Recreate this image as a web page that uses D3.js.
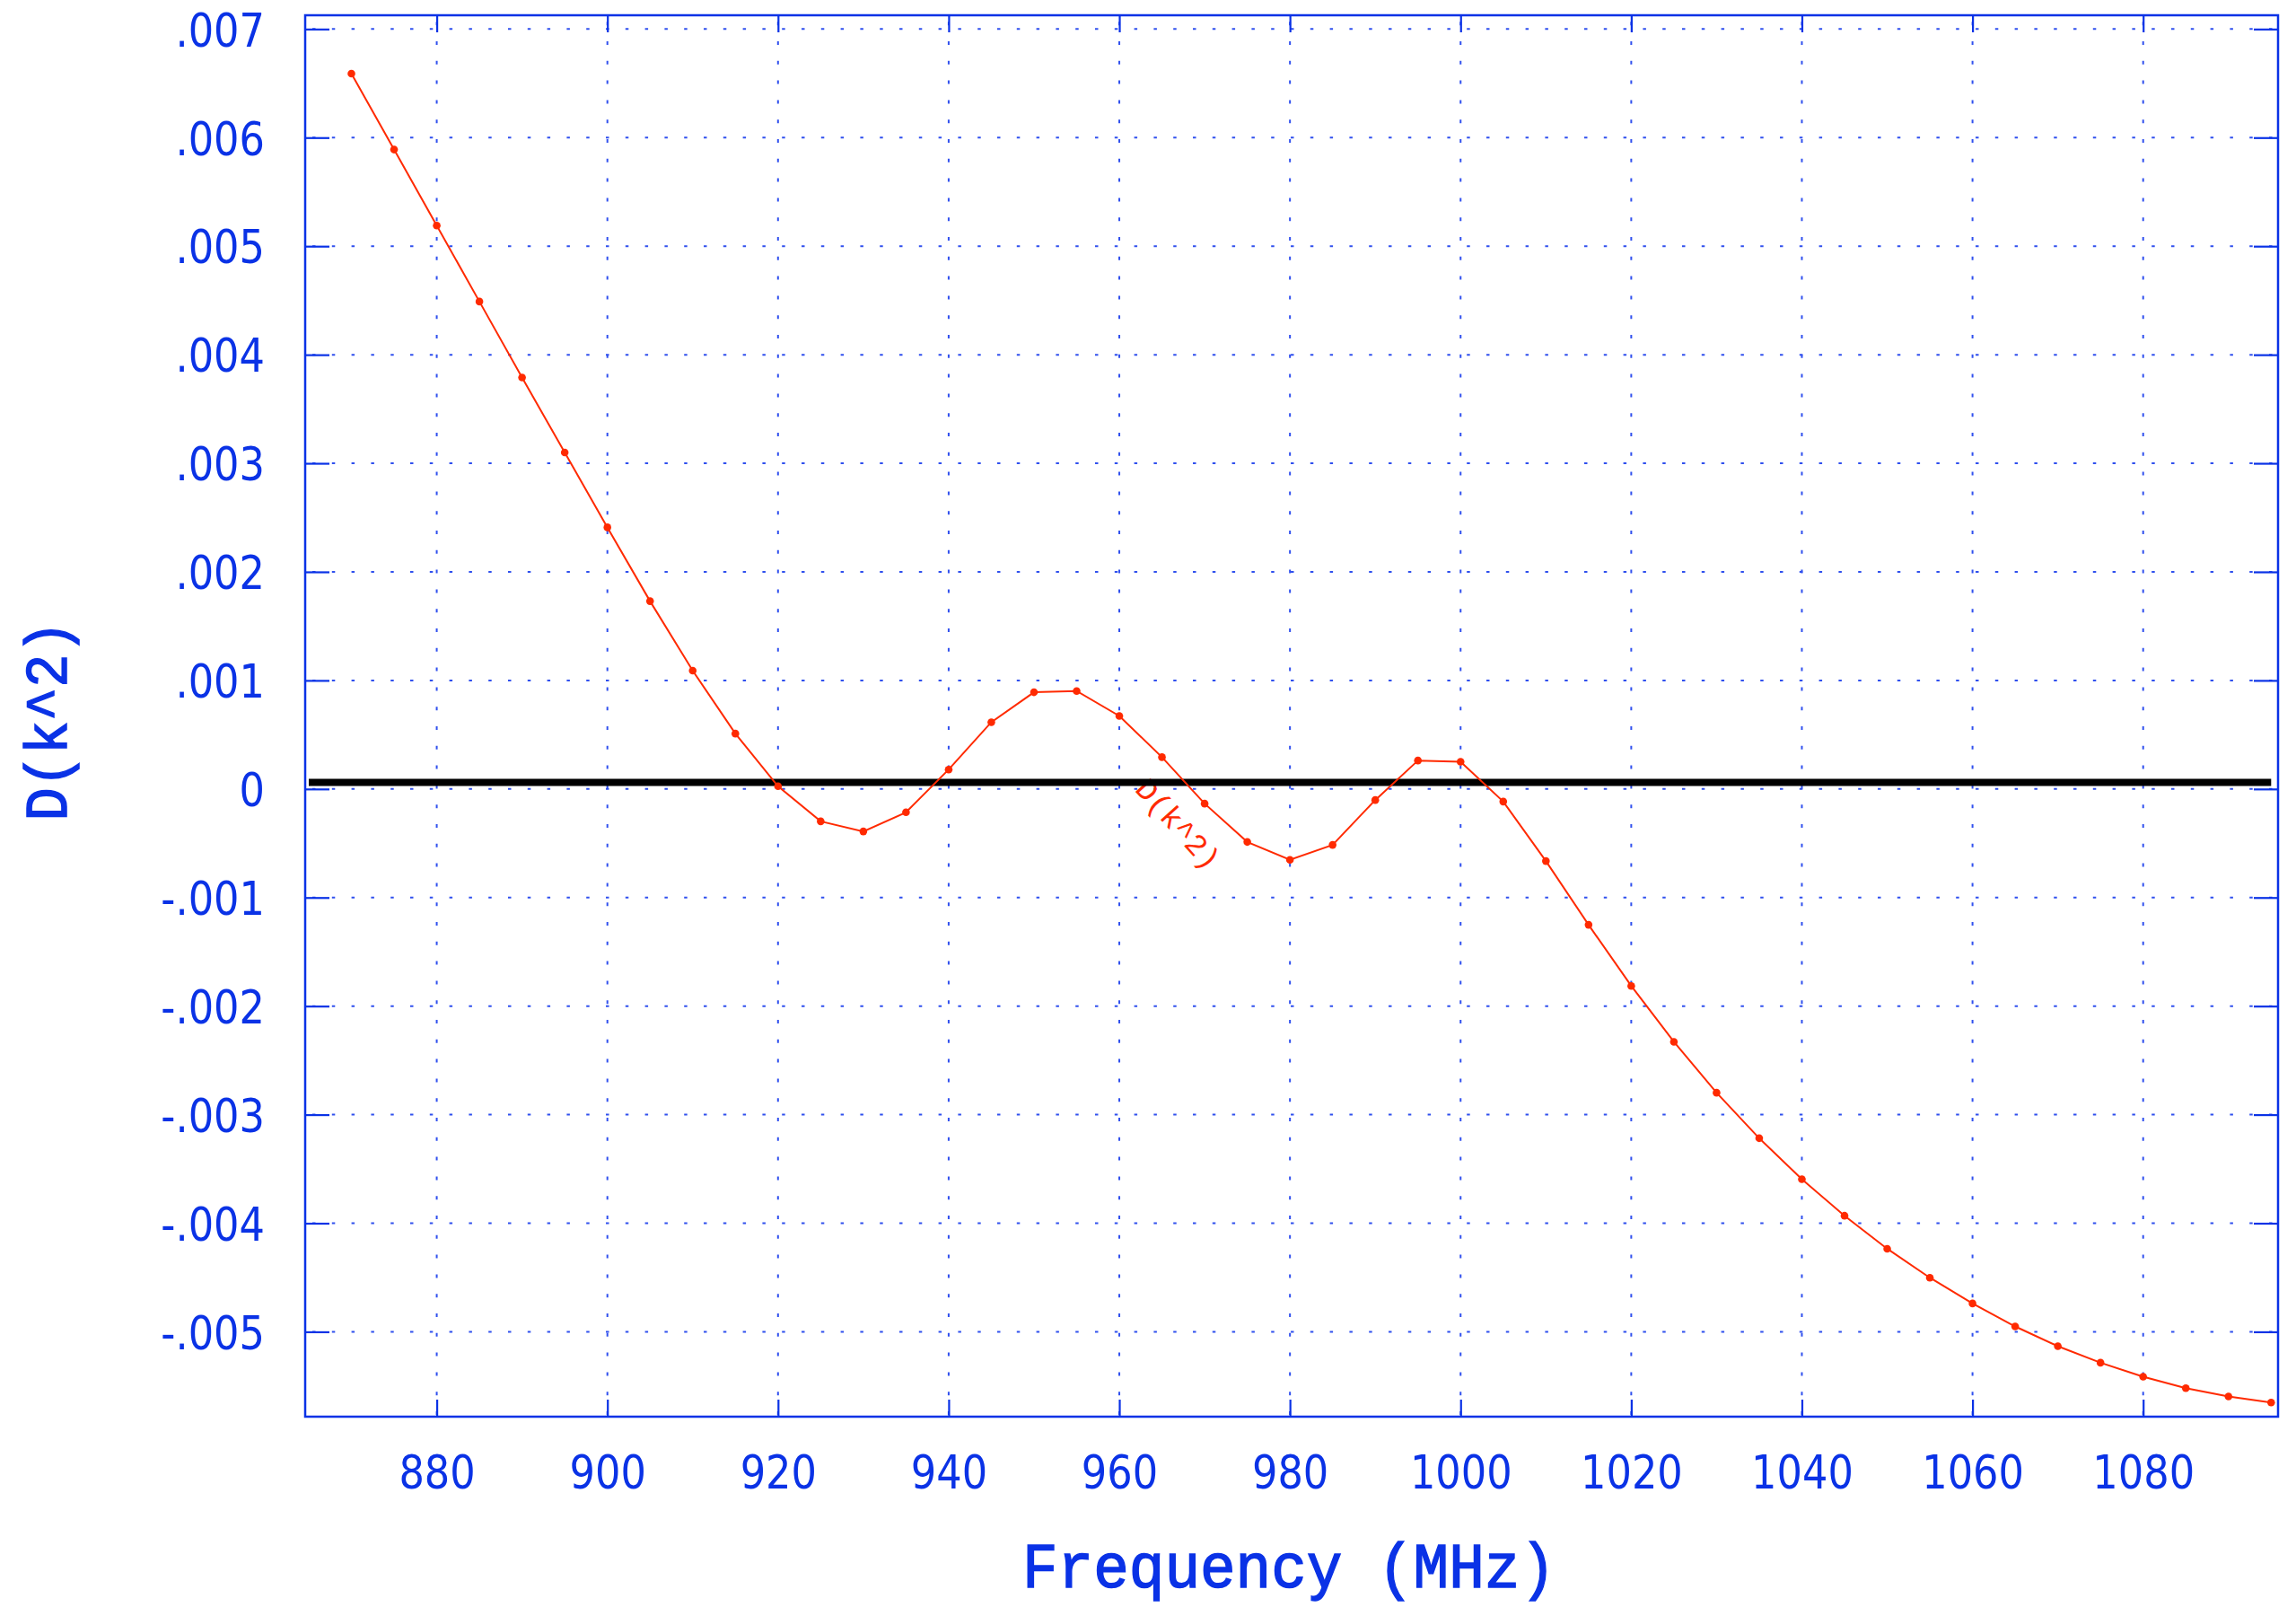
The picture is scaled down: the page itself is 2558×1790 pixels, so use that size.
<!DOCTYPE html>
<html>
<head>
<meta charset="utf-8">
<script src="https://cdn.jsdelivr.net/npm/d3@7"></script>
<style>
  body { margin: 0; background: #ffffff; }
  svg { display: block; }
</style>
</head>
<body>
<svg id="chart"></svg>
<script>
// frequency samples (MHz) and the D(k^2) curve
var frequencies = [870, 875, 880, 885, 890, 895, 900, 905, 910, 915,
                   920, 925, 930, 935, 940, 945, 950, 955, 960, 965,
                   970, 975, 980, 985, 990, 995, 1000, 1005, 1010, 1015,
                   1020, 1025, 1030, 1035, 1040, 1045, 1050, 1055, 1060, 1065,
                   1070, 1075, 1080, 1085, 1090, 1095];
var dk2 = [0.00659, 0.00589, 0.00519, 0.00449, 0.00379, 0.00310, 0.00241, 0.00173, 0.00109, 0.00051,
           0.000025, -0.000298, -0.000391, -0.000215, 0.000179, 0.000615, 0.000891, 0.000902, 0.000673, 0.000293,
           -0.000135, -0.000488, -0.000653, -0.000515, -0.000102, 0.000262, 0.000251, -0.000116, -0.000664, -0.001251,
           -0.001814, -0.002329, -0.002798, -0.003217, -0.003595, -0.003931, -0.004235, -0.004502, -0.004739, -0.004951,
           -0.005133, -0.005285, -0.005414, -0.005519, -0.005596, -0.005652];

// axis ticks and their labels
var xTicks = [880, 900, 920, 940, 960, 980, 1000, 1020, 1040, 1060, 1080];
var yTicks = [0.007, 0.006, 0.005, 0.004, 0.003, 0.002, 0.001, 0, -0.001, -0.002, -0.003, -0.004, -0.005];
var yTickLabels = [".007", ".006", ".005", ".004", ".003", ".002", ".001", "0", "-.001", "-.002", "-.003", "-.004", "-.005"];

// black reference line (value and frequency span)
var refLevel = 0.00006;
var refSpan = [865, 1095];

var xTitle = "Frequency (MHz)";
var yTitle = "D(k^2)";
var seriesLabel = "D(k^2)";

var W = 2558, H = 1790;
var blue = "#0a32e6", gridBlue = "#3050ee", red = "#ff2a00";

var margin = { top: 17, right: 20, bottom: 212, left: 340 },
    width = W - margin.left - margin.right,
    height = H - margin.top - margin.bottom;

var svg = d3.select("#chart").attr("width", W).attr("height", H);
var g = svg.append("g").attr("transform", "translate(" + margin.left + "," + margin.top + ")");

var x = d3.scaleLinear().domain([864.58, 1095.81]).range([0, width]);
var y = d3.scaleLinear().domain([-0.005782, 0.007127]).range([height, 0]);

// dotted grid
g.append("g").selectAll("line").data(yTicks).enter().append("line")
    .attr("x1", 0).attr("x2", width)
    .attr("y1", d => y(d)).attr("y2", d => y(d))
    .attr("stroke", gridBlue).attr("stroke-width", 2)
    .attr("stroke-dasharray", "3.5 18.3").attr("stroke-dashoffset", -8);
g.append("g").selectAll("line").data(xTicks).enter().append("line")
    .attr("x1", d => x(d)).attr("x2", d => x(d))
    .attr("y1", height).attr("y2", 0)
    .attr("stroke", gridBlue).attr("stroke-width", 2)
    .attr("stroke-dasharray", "4 17.8").attr("stroke-dashoffset", -2);

// axes: ticks inside on all four sides
var labelScale = 0.86;
var yAxis = g.append("g")
    .call(d3.axisLeft(y).tickValues(yTicks).tickSize(-27).tickSizeOuter(0)
        .tickFormat((d, i) => yTickLabels[i]).tickPadding(45));
yAxis.selectAll("text")
    .attr("x", -45 / labelScale)
    .attr("transform", "scale(" + labelScale + ",1)")
    .attr("dy", "0.36em");

var xAxis = g.append("g").attr("transform", "translate(0," + height + ")")
    .call(d3.axisBottom(x).tickValues(xTicks).tickSize(-19).tickSizeOuter(0).tickFormat(d3.format("d")));
xAxis.selectAll("text")
    .attr("y", 80).attr("dy", 0)
    .attr("transform", "scale(" + labelScale + ",1)")
    .attr("x", 0);

g.append("g").attr("transform", "translate(" + width + ",0)")
    .call(d3.axisRight(y).tickValues(yTicks).tickSize(-27).tickSizeOuter(0).tickFormat(""));
g.append("g")
    .call(d3.axisTop(x).tickValues(xTicks).tickSize(-19).tickSizeOuter(0).tickFormat(""));

g.selectAll(".domain").remove();
g.selectAll(".tick line").attr("stroke", blue).attr("stroke-width", 2.2);
g.selectAll(".tick text")
    .attr("fill", blue)
    .style("font-family", "'DejaVu Sans', sans-serif")
    .style("font-size", "52px");

// frame
g.append("rect")
    .attr("width", width).attr("height", height)
    .attr("fill", "none").attr("stroke", blue).attr("stroke-width", 2.5);

// series label along the curve
g.append("text")
    .attr("transform", "translate(" + x(961.7) + "," + y(-0.00001) + ") rotate(48)")
    .attr("fill", red)
    .style("font-family", "'Liberation Mono', monospace")
    .style("font-size", "34px")
    .text(seriesLabel);

// black reference line
g.append("line")
    .attr("x1", x(refSpan[0])).attr("x2", x(refSpan[1]))
    .attr("y1", y(refLevel)).attr("y2", y(refLevel))
    .attr("stroke", "#000").attr("stroke-width", 8);

// the curve
var points = frequencies.map((f, i) => ({ f: f, v: dk2[i] }));
g.append("path")
    .datum(points)
    .attr("fill", "none").attr("stroke", red).attr("stroke-width", 2)
    .attr("d", d3.line().x(d => x(d.f)).y(d => y(d.v)));
g.append("g").selectAll("circle").data(points).enter().append("circle")
    .attr("cx", d => x(d.f)).attr("cy", d => y(d.v)).attr("r", 4.3)
    .attr("fill", red);

// axis titles
svg.append("text")
    .attr("transform", "translate(1436,1768) scale(1,1.08)")
    .attr("text-anchor", "middle")
    .attr("fill", blue)
    .attr("stroke", blue).attr("stroke-width", 1.4)
    .style("font-family", "'Liberation Mono', monospace")
    .style("font-size", "66px")
    .text(xTitle);
svg.append("text")
    .attr("transform", "translate(74,803) rotate(-90) scale(1,1.08)")
    .attr("text-anchor", "middle")
    .attr("fill", blue)
    .attr("stroke", blue).attr("stroke-width", 1.4)
    .style("font-family", "'Liberation Mono', monospace")
    .style("font-size", "62px")
    .text(yTitle);
</script>
</body>
</html>
